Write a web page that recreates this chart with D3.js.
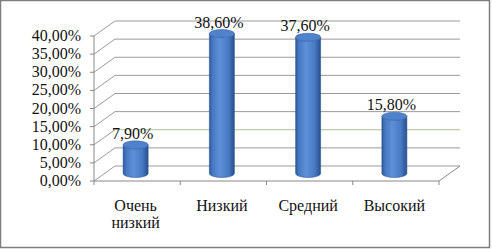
<!DOCTYPE html>
<html>
<head>
<meta charset="utf-8">
<script src="https://cdn.jsdelivr.net/npm/d3@7"></script>
<style>
  body { margin: 0; background: #fff; }
</style>
</head>
<body>
<svg class="chart" width="492" height="249"></svg>
<script>
const categories = [["Очень", "низкий"], ["Низкий"], ["Средний"], ["Высокий"]];
const values = [0.079, 0.386, 0.376, 0.158];
const yTicks = [0, 0.05, 0.1, 0.15, 0.2, 0.25, 0.3, 0.35, 0.4];

const svg = d3.select("svg.chart");

const ru = d3.formatLocale({ decimal: ",", thousands: " ", grouping: [3], currency: ["", ""] });
const pct = ru.format(".2%");

// apply the serif font to a text selection
const serif = sel => sel
    .style("font-family", '"Liberation Serif"')
    .style("font-size", "16px")
    .attr("fill", "#111");

// 3d depth offset of the back wall
const dx = 21, dy = -15;

const catNames = categories.map(d => d.join(" "));
const xScale = d3.scaleBand().domain(catNames).range([94, 439]);
const yScale = d3.scaleLinear().domain([0, 0.4]).range([181, 36]);

// outer frame
svg.append("rect")
    .attr("x", 0.5).attr("y", 0.5)
    .attr("width", 489).attr("height", 247)
    .attr("fill", "none")
    .attr("stroke", "#7f7f7f")
    .attr("stroke-width", 1.5);

const grid = svg.append("g").attr("stroke-width", 1).attr("fill", "none");

yTicks.forEach(t => {
    const y = yScale(t);
    const col = t === 0.1 ? "#a9c48f" : "#9a9a9a";
    grid.append("path")
        .attr("stroke", "#9a9a9a")
        .attr("d", `M${94},${y}L${94 + dx},${y + dy}`);
    grid.append("path")
        .attr("stroke", col)
        .attr("d", `M${94 + dx},${y + dy}H${439 + dx}`);
    // tick marks
    grid.append("path")
        .attr("stroke", "#888")
        .attr("d", `M90,${y}H94`);
});

// floor front and right edge
const y0 = yScale(0);
grid.append("path").attr("stroke", "#888")
    .attr("d", `M94,${y0}H439L${439 + dx},${y0 + dy}`);
// vertical axis
grid.append("path").attr("stroke", "#888")
    .attr("d", `M94,${yScale(0.4)}V${y0}`);
// category ticks
[94].concat(catNames.map(c => xScale(c) + xScale.bandwidth())).forEach(x => {
    grid.append("path").attr("stroke", "#888")
        .attr("d", `M${x},${y0}V${y0 + 4}`);
});

// y labels
svg.append("g").selectAll("text")
    .data(yTicks)
    .enter().append("text")
    .attr("x", 81)
    .attr("y", d => yScale(d) + 5)
    .attr("text-anchor", "end")
    .call(serif)
    .text(d => pct(d));

// cylinder gradient
const defs = svg.append("defs");
const grad = defs.append("linearGradient").attr("id", "cyl")
    .attr("x1", "0%").attr("x2", "100%").attr("y1", "0%").attr("y2", "0%");
grad.append("stop").attr("offset", "0%").attr("stop-color", "#2c5798");
grad.append("stop").attr("offset", "12%").attr("stop-color", "#4677c0");
grad.append("stop").attr("offset", "40%").attr("stop-color", "#5d90d8");
grad.append("stop").attr("offset", "75%").attr("stop-color", "#4a7cc6");
grad.append("stop").attr("offset", "100%").attr("stop-color", "#284f8c");

const rx = 12.5, ry = 4;
const barX = c => xScale(c) + xScale.bandwidth() / 2 - 1.5;
const barY = v => yScale(v) + dy / 2;

const bars = svg.append("g").selectAll("g")
    .data(values.map((v, i) => ({ v, c: catNames[i] })))
    .enter().append("g");

bars.append("path")
    .attr("fill", "url(#cyl)")
    .attr("stroke", "#2f5a9a")
    .attr("stroke-width", 0.6)
    .attr("d", d => {
        const cx = barX(d.c), top = barY(d.v), bot = barY(0);
        return `M${cx - rx},${top}V${bot}A${rx},${ry} 0 0 0 ${cx + rx},${bot}V${top}A${rx},${ry} 0 0 1 ${cx - rx},${top}Z`;
    });

bars.append("ellipse")
    .attr("cx", d => barX(d.c))
    .attr("cy", d => barY(d.v))
    .attr("rx", rx).attr("ry", ry)
    .attr("fill", "#4f82cb")
    .attr("stroke", "#3566ab")
    .attr("stroke-width", 0.6);

// value labels
bars.append("text")
    .attr("x", d => barX(d.c) - 3)
    .attr("y", d => barY(d.v) - 6)
    .attr("text-anchor", "middle")
    .call(serif)
    .text(d => pct(d.v));

// category labels
const cl = svg.append("g").selectAll("text")
    .data(categories)
    .enter().append("text")
    .attr("text-anchor", "middle")
    .call(serif)
    .attr("x", (d, i) => xScale(catNames[i]) + xScale.bandwidth() / 2 - 1.5)
    .attr("y", 211);
cl.selectAll("tspan")
    .data(d => d)
    .enter().append("tspan")
    .attr("x", function () { return d3.select(this.parentNode).attr("x"); })
    .attr("dy", (d, i) => i === 0 ? 0 : 17)
    .text(d => d);
</script>
</body>
</html>
